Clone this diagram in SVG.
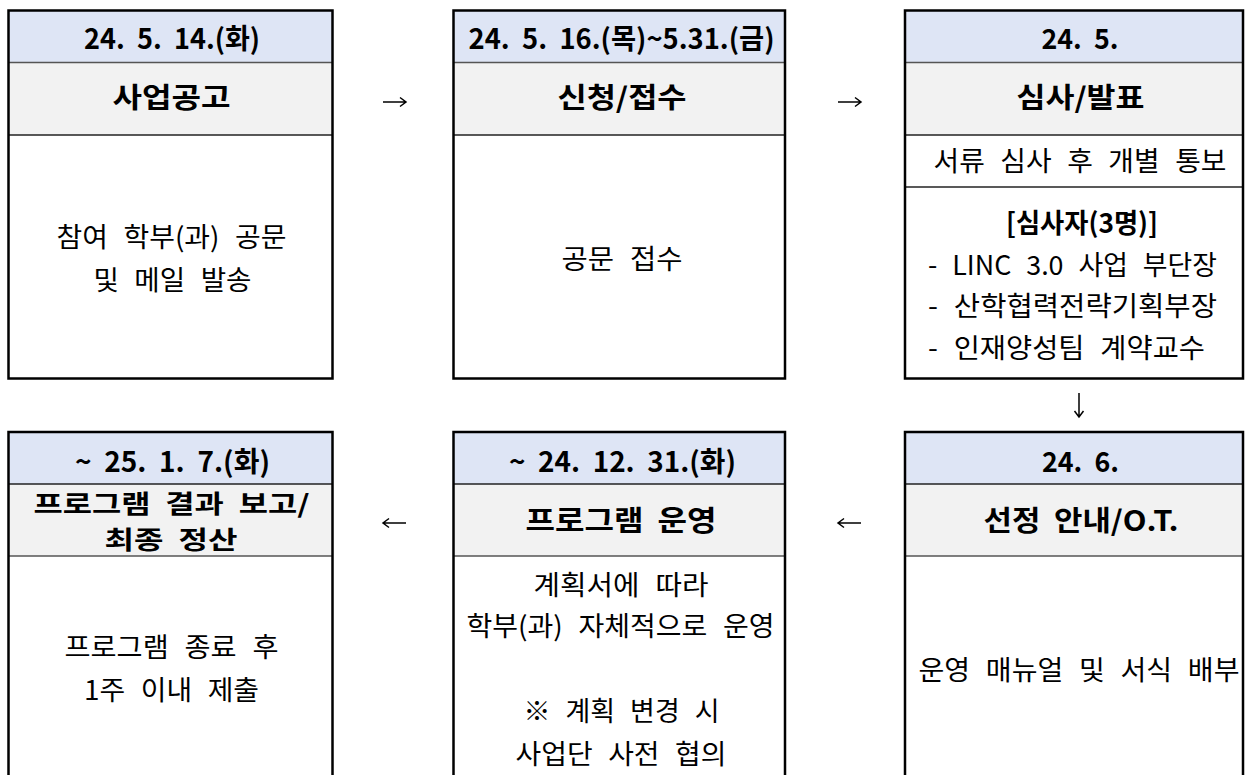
<svg xmlns="http://www.w3.org/2000/svg" width="1245" height="775" viewBox="0 0 1245 775">
<defs>
<style>
.frame{fill:none;stroke:#000;stroke-width:2.5}
.hd{fill:#dee5f5}
.tt{fill:#f2f2f2}
.sep{stroke:#555;stroke-width:1.3}
.sepd{stroke:#222;stroke-width:1.3}
text{font-family:"Noto Sans CJK KR","Malgun Gothic","Noto Sans",sans-serif;fill:#000;text-anchor:middle;white-space:pre}
.h{font-size:28px;font-weight:700}
.t{font-size:28px;font-weight:700;word-spacing:6px}
.b{font-size:27px;word-spacing:9px}
.bb{font-size:27px;font-weight:700}
.l{text-anchor:start}
.arr{fill:none;stroke:#000;stroke-width:1.5}
</style>
</defs>
<rect width="1245" height="775" fill="#fff"/>

<g id="node-announce">
<rect class="hd" x="8.5" y="10.5" width="324" height="52"/>
<rect class="tt" x="8.5" y="62.5" width="324" height="72.5"/>
<line class="sep" x1="8.5" y1="62.5" x2="332.5" y2="62.5"/>
<line class="sepd" x1="8.5" y1="135" x2="332.5" y2="135"/>
<rect class="frame" x="8.5" y="10.5" width="324" height="368"/>
<text class="h" x="172" y="49" textLength="176" lengthAdjust="spacingAndGlyphs">24.  5.  14.(화)</text>
<text class="t" x="171.5" y="108" textLength="118" lengthAdjust="spacingAndGlyphs">사업공고</text>
<text class="b" x="171.5" y="247" textLength="230" lengthAdjust="spacingAndGlyphs">참여 학부(과) 공문</text>
<text class="b" x="172.5" y="290" textLength="158" lengthAdjust="spacingAndGlyphs">및 메일 발송</text>
</g>

<g id="node-apply">
<rect class="hd" x="453.5" y="10.5" width="331.5" height="52"/>
<rect class="tt" x="453.5" y="62.5" width="331.5" height="72.5"/>
<line class="sep" x1="453.5" y1="62.5" x2="785" y2="62.5"/>
<line class="sepd" x1="453.5" y1="135" x2="785" y2="135"/>
<rect class="frame" x="453.5" y="10.5" width="331.5" height="368"/>
<text class="h" x="621.5" y="49" textLength="306" lengthAdjust="spacingAndGlyphs">24.  5.  16.(목)~5.31.(금)</text>
<text class="t" x="622" y="108" textLength="129" lengthAdjust="spacingAndGlyphs">신청/접수</text>
<text class="b" x="622" y="269" textLength="121" lengthAdjust="spacingAndGlyphs">공문 접수</text>
</g>

<g id="node-review">
<rect class="hd" x="905" y="10.5" width="338" height="52"/>
<rect class="tt" x="905" y="62.5" width="338" height="72.5"/>
<line class="sep" x1="905" y1="62.5" x2="1243" y2="62.5"/>
<line class="sepd" x1="905" y1="135" x2="1243" y2="135"/>
<line class="sepd" x1="905" y1="187" x2="1243" y2="187"/>
<rect class="frame" x="905" y="10.5" width="338" height="368"/>
<text class="h" x="1080" y="49" textLength="77" lengthAdjust="spacingAndGlyphs">24.  5.</text>
<text class="t" x="1080.5" y="108" textLength="128" lengthAdjust="spacingAndGlyphs">심사/발표</text>
<text class="b" x="1080" y="171" textLength="293" lengthAdjust="spacingAndGlyphs">서류 심사 후 개별 통보</text>
<text class="bb" x="1082" y="233" textLength="152" lengthAdjust="spacingAndGlyphs">[심사자(3명)]</text>
<text class="b l" x="928" y="275" textLength="289" lengthAdjust="spacingAndGlyphs">- LINC 3.0 사업 부단장</text>
<text class="b l" x="928" y="316" textLength="289" lengthAdjust="spacingAndGlyphs">- 산학협력전략기획부장</text>
<text class="b l" x="928" y="358" textLength="277" lengthAdjust="spacingAndGlyphs">- 인재양성팀 계약교수</text>
</g>

<g id="node-orientation">
<rect class="hd" x="905" y="432" width="338" height="52"/>
<rect class="tt" x="905" y="484" width="338" height="72"/>
<line class="sepd" x1="905" y1="484" x2="1243" y2="484"/>
<line class="sep" x1="905" y1="556" x2="1243" y2="556"/>
<rect class="frame" x="905" y="432" width="338" height="380"/>
<text class="h" x="1080.5" y="472" textLength="77" lengthAdjust="spacingAndGlyphs">24.  6.</text>
<text class="t" x="1081" y="531" textLength="195" lengthAdjust="spacingAndGlyphs">선정 안내/O.T.</text>
<text class="b" x="1079" y="680" textLength="321" lengthAdjust="spacingAndGlyphs">운영 매뉴얼 및 서식 배부</text>
</g>

<g id="node-operation">
<rect class="hd" x="453.5" y="432" width="331.5" height="52"/>
<rect class="tt" x="453.5" y="484" width="331.5" height="72"/>
<line class="sepd" x1="453.5" y1="484" x2="785" y2="484"/>
<line class="sep" x1="453.5" y1="556" x2="785" y2="556"/>
<rect class="frame" x="453.5" y="432" width="331.5" height="380"/>
<text class="h" x="622.5" y="472" textLength="227" lengthAdjust="spacingAndGlyphs">~  24.  12.  31.(화)</text>
<text class="t" x="621" y="531" textLength="191" lengthAdjust="spacingAndGlyphs">프로그램 운영</text>
<text class="b" x="621" y="595" textLength="175" lengthAdjust="spacingAndGlyphs">계획서에 따라</text>
<text class="b" x="620.5" y="636" textLength="308" lengthAdjust="spacingAndGlyphs">학부(과) 자체적으로 운영</text>
<text class="b" x="621.5" y="721" textLength="196" lengthAdjust="spacingAndGlyphs">※ 계획 변경 시</text>
<text class="b" x="621" y="764" textLength="211" lengthAdjust="spacingAndGlyphs">사업단 사전 협의</text>
</g>

<g id="node-report">
<rect class="hd" x="8.5" y="432" width="324" height="52"/>
<rect class="tt" x="8.5" y="484" width="324" height="72"/>
<line class="sepd" x1="8.5" y1="484" x2="332.5" y2="484"/>
<line class="sep" x1="8.5" y1="556" x2="332.5" y2="556"/>
<rect class="frame" x="8.5" y="432" width="324" height="380"/>
<text class="h" x="172.5" y="472" textLength="195" lengthAdjust="spacingAndGlyphs">~  25.  1.  7.(화)</text>
<text class="t" x="171.5" y="513" style="font-size:25px" textLength="276" lengthAdjust="spacingAndGlyphs">프로그램 결과 보고/</text>
<text class="t" x="171" y="549" style="font-size:25px" textLength="133" lengthAdjust="spacingAndGlyphs">최종 정산</text>
<text class="b" x="171.5" y="657" textLength="214" lengthAdjust="spacingAndGlyphs">프로그램 종료 후</text>
<text class="b" x="171.5" y="700" textLength="175" lengthAdjust="spacingAndGlyphs">1주 이내 제출</text>
</g>

<g id="connectors">
<path class="arr" d="M383,102 H406 M400,97.5 L406,102 L400,106.5"/>
<path class="arr" d="M838,102 H861 M855,97.5 L861,102 L855,106.5"/>
<path class="arr" d="M1079,393 V417 M1074.5,411 L1079,417 L1083.5,411"/>
<path class="arr" d="M861,523 H838 M844,518.5 L838,523 L844,527.5"/>
<path class="arr" d="M406,523 H383 M389,518.5 L383,523 L389,527.5"/>
</g>
</svg>
